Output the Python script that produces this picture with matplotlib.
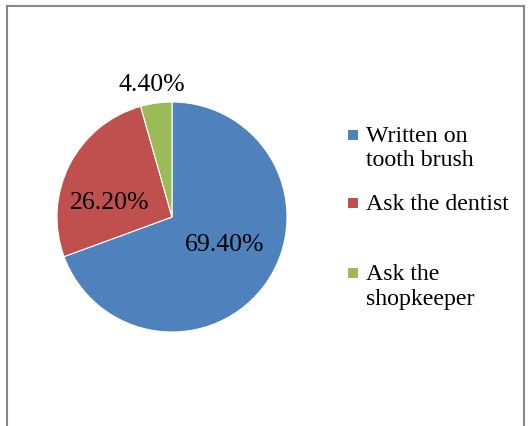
import matplotlib.pyplot as plt
from matplotlib.patches import Rectangle

# Data
labels = ["Written on\ntooth brush", "Ask the dentist", "Ask the\nshopkeeper"]
values = [69.4, 26.2, 4.4]
pct_text = ["69.40%", "26.20%", "4.40%"]
colors = ["#4F81BD", "#C0504D", "#9BBB59"]

plt.rcParams["font.family"] = ["Liberation Serif", "DejaVu Serif"]

fig = plt.figure(figsize=(5.31, 4.26), dpi=100)
W, H = 531, 426

# Chart area border (bottom runs off the image)
fig.patches.append(Rectangle((7 / W, -0.1), (524 - 7) / W, 1.1 - 6 / H,
                             transform=fig.transFigure, fill=False,
                             edgecolor="#868686", linewidth=1.5))

# Pie axes: centre (172, 217), radius 115 px
ax = fig.add_axes([57 / W, (H - 332) / H, 230 / W, 230 / H])
wedges, _ = ax.pie(values, colors=colors, startangle=90, counterclock=False,
                   radius=1.0, wedgeprops=dict(edgecolor="white", linewidth=0.8))
ax.set_xlim(-1, 1)
ax.set_ylim(-1, 1)
ax.set_aspect("equal")
ax.axis("off")

# Data labels
label_pos = [(0.46, -0.243), (-0.54, 0.122), (-0.174, 1.148)]
for txt, (x, y) in zip(pct_text, label_pos):
    ax.text(x, y, txt, ha="center", va="center", fontsize=18.5, clip_on=False)

# Legend, placed like the original (square lines up with first text line)
legend_y = [135, 203, 273]
line_gap = 25
for lab, col, yc in zip(labels, colors, legend_y):
    fig.patches.append(Rectangle((348 / W, (H - yc - 5) / H), 10 / W, 10 / H,
                                 transform=fig.transFigure,
                                 facecolor=col, edgecolor="none"))
    for i, line in enumerate(lab.split("\n")):
        fig.text(366 / W, (H - yc - 1 - i * line_gap) / H, line, ha="left",
                 va="center", fontsize=17.2)

fig.savefig("out.png", dpi=100)
